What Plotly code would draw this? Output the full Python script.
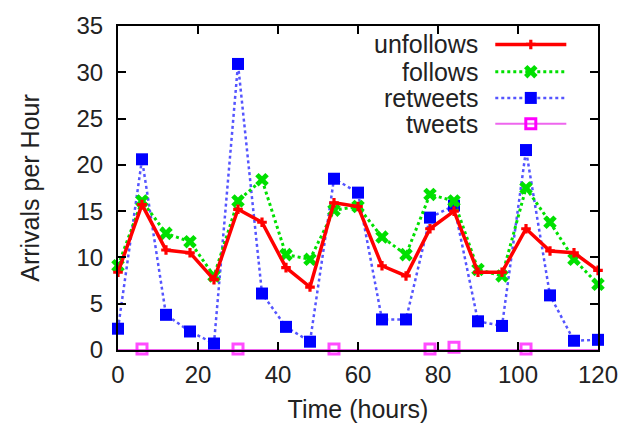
import plotly.graph_objects as go

hours = [0, 6, 12, 18, 24, 30, 36, 42, 48, 54, 60, 66, 72, 78, 84, 90, 96, 102, 108, 114, 120]
unfollows = [8.4, 15.7, 10.8, 10.5, 7.6, 15.2, 13.8, 8.9, 6.8, 15.9, 15.5, 9.1, 8.0, 13.1, 15.0, 8.4, 8.4, 13.1, 10.7, 10.5, 8.6]
follows = [9.1, 16.1, 12.6, 11.7, 8.0, 16.1, 18.4, 10.3, 9.8, 15.1, 15.5, 12.2, 10.3, 16.8, 16.1, 8.7, 8.0, 17.5, 13.8, 9.8, 7.1]
retweets = [2.3, 20.6, 3.8, 2.0, 0.7, 30.9, 6.1, 2.5, 0.9, 18.5, 17.0, 3.3, 3.3, 14.3, 15.6, 3.1, 2.6, 21.6, 5.9, 1.0, 1.1]
tweets = [0, 0.1, 0, 0, 0, 0.1, 0, 0, 0, 0.1, 0, 0, 0, 0.1, 0.3, 0, 0, 0.1, 0, 0, 0]

x_ticks = [0, 20, 40, 60, 80, 100, 120]
y_ticks = [0, 5, 10, 15, 20, 25, 30, 35]

FONT = "Liberation Sans, Arial, sans-serif"
TXT = "#222222"
TICK_SIZE = 24
TITLE_SIZE = 25

styles = {
    "unfollows": dict(line=dict(color="#ff0000", width=3.5), marker=dict(symbol="cross", size=8, color="#ff0000")),
    "follows": dict(line=dict(color="#00e000", width=3, dash="dot"), marker=dict(symbol="x", size=12, color="#00e000")),
    "retweets": dict(line=dict(color="#5555ff", width=2.5, dash="dot"), marker=dict(symbol="square", size=12, color="#0000ff")),
    "tweets": dict(line=dict(color="#ee66ee", width=2), marker=dict(symbol="square-open", size=10, color="#ff00ff", line=dict(width=3, color="#ff00ff"))),
}

fig = go.Figure()

tweet_sizes = [10 if v > 0 else 0 for v in tweets]
st = styles["tweets"]
fig.add_trace(go.Scatter(x=hours, y=[0 for _ in tweets], mode="lines", line=st["line"],
                         showlegend=False, cliponaxis=False, hoverinfo="skip"))
fig.add_trace(go.Scatter(x=hours, y=tweets, mode="markers",
                         marker=dict(symbol="square-open", size=tweet_sizes, color="#ff00ff", line=dict(width=3, color="#ff00ff")),
                         showlegend=False, cliponaxis=False, name="tweets"))
for name, vals in [("retweets", retweets), ("follows", follows), ("unfollows", unfollows)]:
    s = styles[name]
    fig.add_trace(go.Scatter(x=hours, y=vals, mode="lines+markers", line=s["line"], marker=s["marker"],
                             showlegend=False, cliponaxis=False, name=name))

# gnuplot-style legend (text right-aligned, sample on the right)
legend_names = ["unfollows", "follows", "retweets", "tweets"]
legend_rows = [0.943, 0.859, 0.778, 0.698]
for name, yr in zip(legend_names, legend_rows):
    s = styles[name]
    fig.add_trace(go.Scatter(x=[0.786, 0.934], y=[yr, yr], xaxis="x2", yaxis="y2", mode="lines",
                             line=s["line"], showlegend=False, hoverinfo="skip"))
    fig.add_trace(go.Scatter(x=[0.86], y=[yr], xaxis="x2", yaxis="y2", mode="markers",
                             marker=s["marker"], showlegend=False, hoverinfo="skip"))
    fig.add_annotation(x=0.755, y=yr, xref="x2", yref="y2", text=name, showarrow=False,
                       xanchor="right", yanchor="middle", font=dict(family=FONT, size=TITLE_SIZE, color=TXT))

axis_common = dict(showline=True, linecolor="black", linewidth=2, mirror="allticks",
                   ticks="inside", ticklen=8, tickwidth=1.5, tickcolor="black",
                   showgrid=False, zeroline=False,
                   tickfont=dict(family=FONT, size=TICK_SIZE, color=TXT))

fig.update_layout(
    width=630, height=433,
    margin=dict(l=118, r=30, t=16, b=83),
    paper_bgcolor="white", plot_bgcolor="white",
    showlegend=False,
    xaxis=dict(range=[0, 120], tickvals=x_ticks, ticktext=[str(v) for v in x_ticks],
               title=dict(text="Time (hours)", font=dict(family=FONT, size=TITLE_SIZE, color=TXT), standoff=14),
               ticklabelstandoff=2, **axis_common),
    yaxis=dict(range=[0, 35], tickvals=y_ticks, ticktext=[str(v) for v in y_ticks],
               title=dict(text="Arrivals per Hour", font=dict(family=FONT, size=TITLE_SIZE, color=TXT), standoff=30),
               ticklabelstandoff=8, **axis_common),
    xaxis2=dict(range=[0, 1], overlaying="x", visible=False, fixedrange=True),
    yaxis2=dict(range=[0, 1], overlaying="y", visible=False, fixedrange=True),
)

fig.write_html("out.html")
